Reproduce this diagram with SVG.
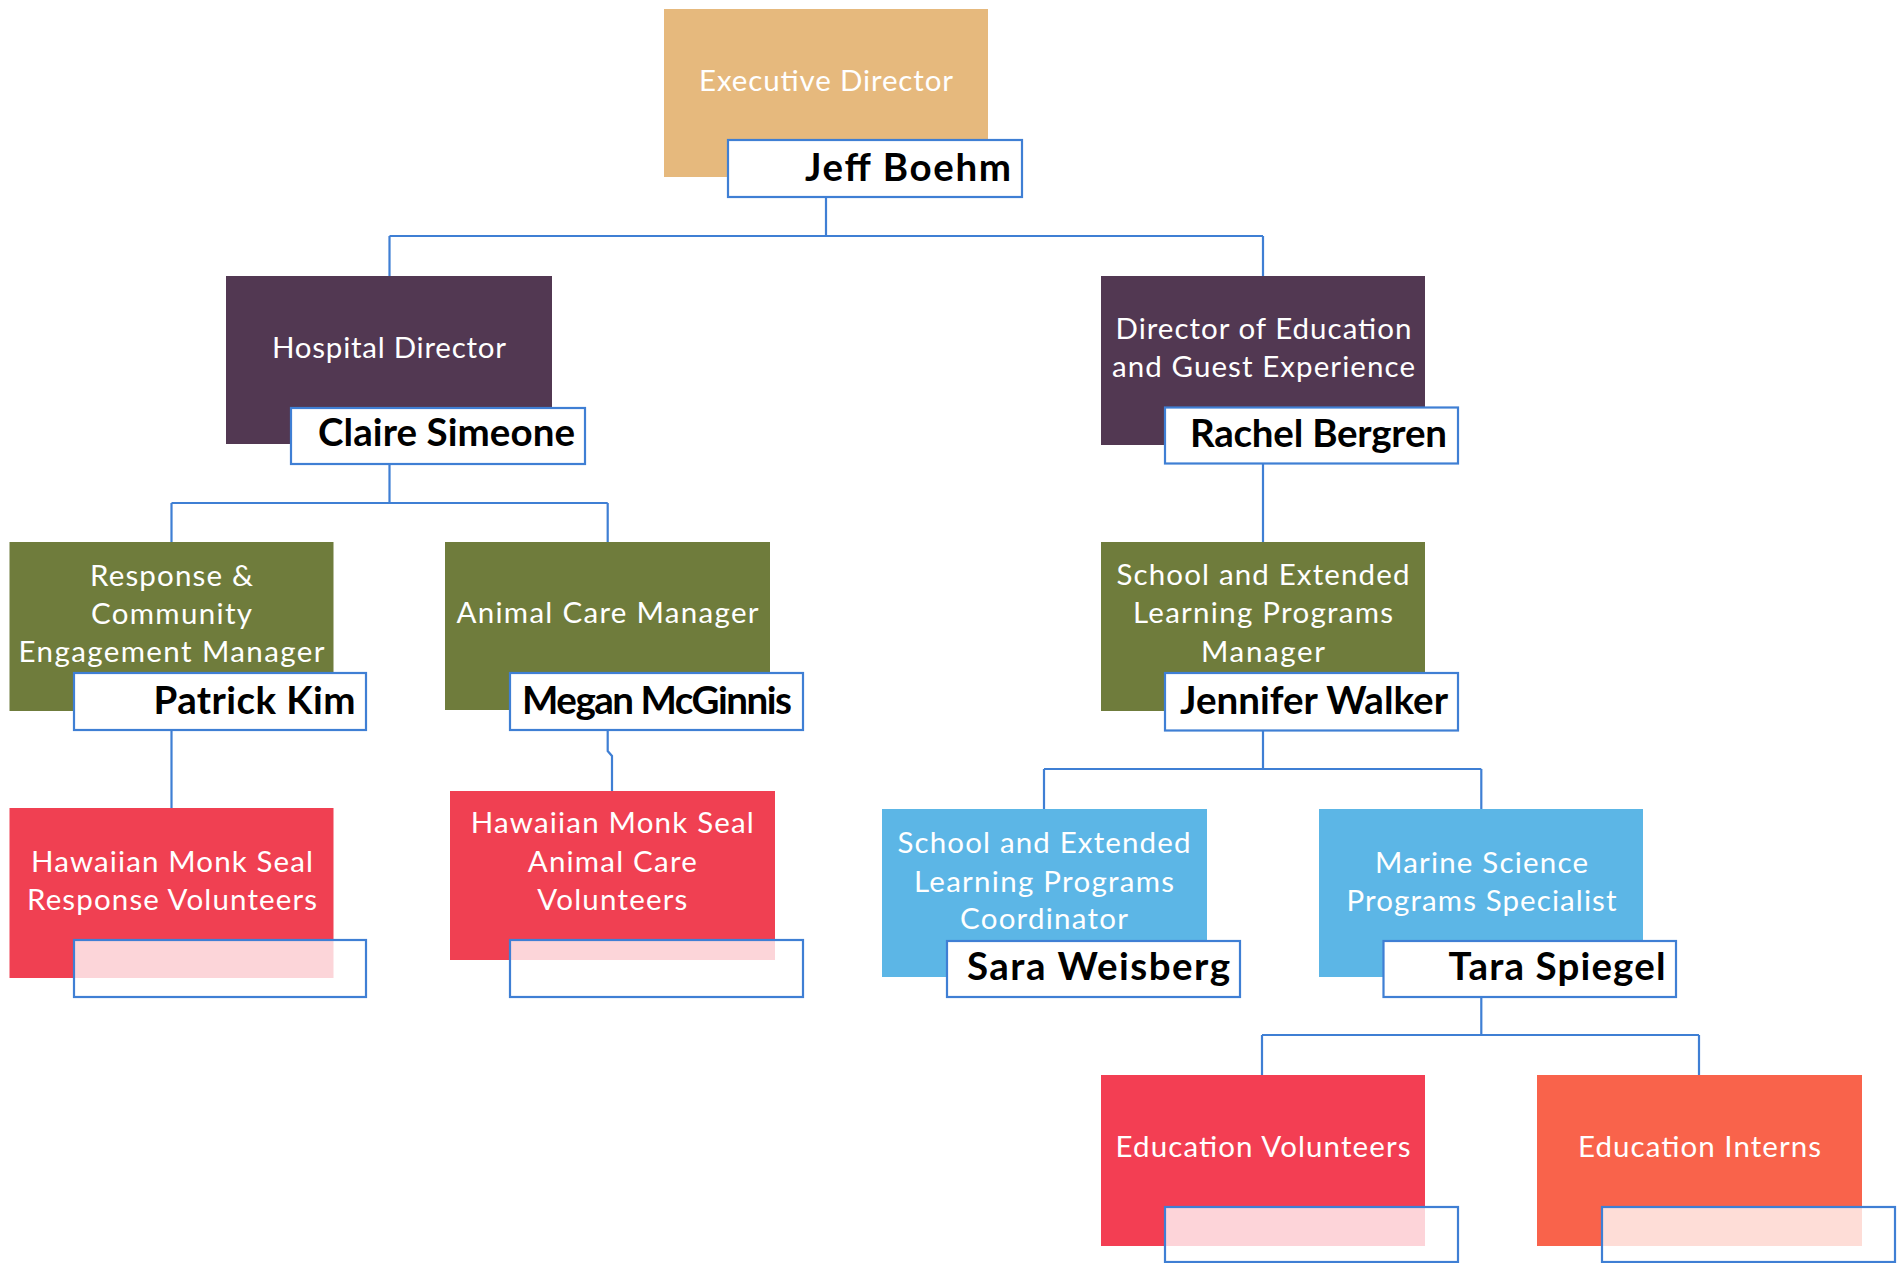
<svg xmlns="http://www.w3.org/2000/svg" width="1904" height="1263" viewBox="0 0 1904 1263">
<style>
.t{font-family:Lato,"Open Sans","Liberation Sans",sans-serif;font-size:29.5px;fill:#ffffff;text-anchor:middle}
.n{font-family:Lato,"Open Sans","Liberation Sans",sans-serif;font-size:38.5px;font-weight:bold;fill:#000000;text-anchor:end}
.nb{fill:#ffffff;stroke:#3F7FD4;stroke-width:2.2}
.eb{fill:#ffffff;fill-opacity:0.78;stroke:#3F7FD4;stroke-width:2.2}
.c{fill:none;stroke:#3F7FD4;stroke-width:2.2}
.tan{fill:#E6B97D}.pur{fill:#523852}.olv{fill:#6F7C3C}.red{fill:#F04052}.blu{fill:#5CB6E6}.org{fill:#F9634B}
</style>
<rect width="1904" height="1263" fill="#ffffff"/>
<g id="connectors">
<path class="c" d="M826 197V236M389.5 236H1263M389.5 236V276M1263 236V276"/>
<path class="c" d="M389.5 463V503M171.5 503H607.7M171.5 503V542M607.7 503V542"/>
<path class="c" d="M171.5 730V808"/>
<path class="c" d="M607.7 730V751L612 756V791"/>
<path class="c" d="M1263 463V542"/>
<path class="c" d="M1263 730V769M1044 769H1481.3M1044 769V809M1481.3 769V809"/>
<path class="c" d="M1481.3 997V1035M1262 1035H1699M1262 1035V1075M1699 1035V1075"/>
</g>
<g id="executive-director">
<rect class="tan" x="664" y="9" width="324" height="168"/>
<text class="t" x="826" y="90.5" textLength="254">Executive Director</text>
<rect class="nb" x="728" y="140" width="294" height="57"/>
<text class="n" x="1011" y="181" textLength="206">Jeff Boehm</text>
</g>
<g id="hospital-director">
<rect class="pur" x="226" y="276" width="326" height="168"/>
<text class="t" x="389" y="358" textLength="234">Hospital Director</text>
<rect class="nb" x="291" y="408" width="294" height="56"/>
<text class="n" x="575" y="446" textLength="257">Claire Simeone</text>
</g>
<g id="director-education">
<rect class="pur" x="1101" y="276" width="324" height="169"/>
<text class="t" x="1263.5" y="339.3" textLength="296">Director of Education</text>
<text class="t" x="1263.5" y="377.3" textLength="303">and Guest Experience</text>
<rect class="nb" x="1165" y="407.5" width="293" height="56"/>
<text class="n" x="1447" y="446.5" textLength="257">Rachel Bergren</text>
</g>
<g id="response-manager">
<rect class="olv" x="9.5" y="542" width="324" height="169"/>
<text class="t" x="171.5" y="585.5" textLength="163">Response &amp;</text>
<text class="t" x="171.5" y="623.5" textLength="161">Community</text>
<text class="t" x="171.5" y="661.5" textLength="306">Engagement Manager</text>
<rect class="nb" x="74" y="673" width="292" height="57"/>
<text class="n" x="355.5" y="714" textLength="202">Patrick Kim</text>
</g>
<g id="animal-care-manager">
<rect class="olv" x="445" y="542" width="325" height="168"/>
<text class="t" x="607.5" y="623" textLength="302">Animal Care Manager</text>
<rect class="nb" x="510" y="673" width="293" height="57"/>
<text class="n" x="792" y="714" textLength="270">Megan McGinnis</text>
</g>
<g id="school-manager">
<rect class="olv" x="1101" y="542" width="324" height="169"/>
<text class="t" x="1263" y="585" textLength="293">School and Extended</text>
<text class="t" x="1263" y="623.3" textLength="260">Learning Programs</text>
<text class="t" x="1263" y="661.7" textLength="124">Manager</text>
<rect class="nb" x="1165" y="673" width="293" height="57.5"/>
<text class="n" x="1448" y="714" textLength="268">Jennifer Walker</text>
</g>
<g id="response-volunteers">
<rect class="red" x="9.5" y="808" width="324" height="170"/>
<text class="t" x="172" y="871.7" textLength="282">Hawaiian Monk Seal</text>
<text class="t" x="172" y="910" textLength="290">Response Volunteers</text>
<rect class="eb" x="74" y="940" width="292" height="57"/>
</g>
<g id="animal-care-volunteers">
<rect class="red" x="450" y="791" width="325" height="169"/>
<text class="t" x="612.3" y="833" textLength="283">Hawaiian Monk Seal</text>
<text class="t" x="612.3" y="871.7" textLength="169">Animal Care</text>
<text class="t" x="612.3" y="910" textLength="150">Volunteers</text>
<rect class="eb" x="510" y="940" width="293" height="57"/>
</g>
<g id="programs-coordinator">
<rect class="blu" x="882" y="809" width="325" height="168"/>
<text class="t" x="1044" y="852.7" textLength="293">School and Extended</text>
<text class="t" x="1044" y="891.7" textLength="260">Learning Programs</text>
<text class="t" x="1044" y="929.3" textLength="168">Coordinator</text>
<rect class="nb" x="947" y="941" width="293" height="56"/>
<text class="n" x="1230" y="980" textLength="263">Sara Weisberg</text>
</g>
<g id="marine-science-specialist">
<rect class="blu" x="1319" y="809" width="324" height="168"/>
<text class="t" x="1481.5" y="872.7" textLength="213">Marine Science</text>
<text class="t" x="1481.5" y="910.7" textLength="270">Programs Specialist</text>
<rect class="nb" x="1383.5" y="941" width="292.5" height="56"/>
<text class="n" x="1665.5" y="980" textLength="217">Tara Spiegel</text>
</g>
<g id="education-volunteers">
<rect class="red" x="1101" y="1075" width="324" height="171" style="fill:#F33E53"/>
<text class="t" x="1263" y="1156.7" textLength="295">Education Volunteers</text>
<rect class="eb" x="1165" y="1207" width="293" height="55"/>
</g>
<g id="education-interns">
<rect class="org" x="1537" y="1075" width="325" height="171"/>
<text class="t" x="1699.5" y="1157" textLength="243">Education Interns</text>
<rect class="eb" x="1602" y="1207" width="293" height="55"/>
</g>
</svg>
